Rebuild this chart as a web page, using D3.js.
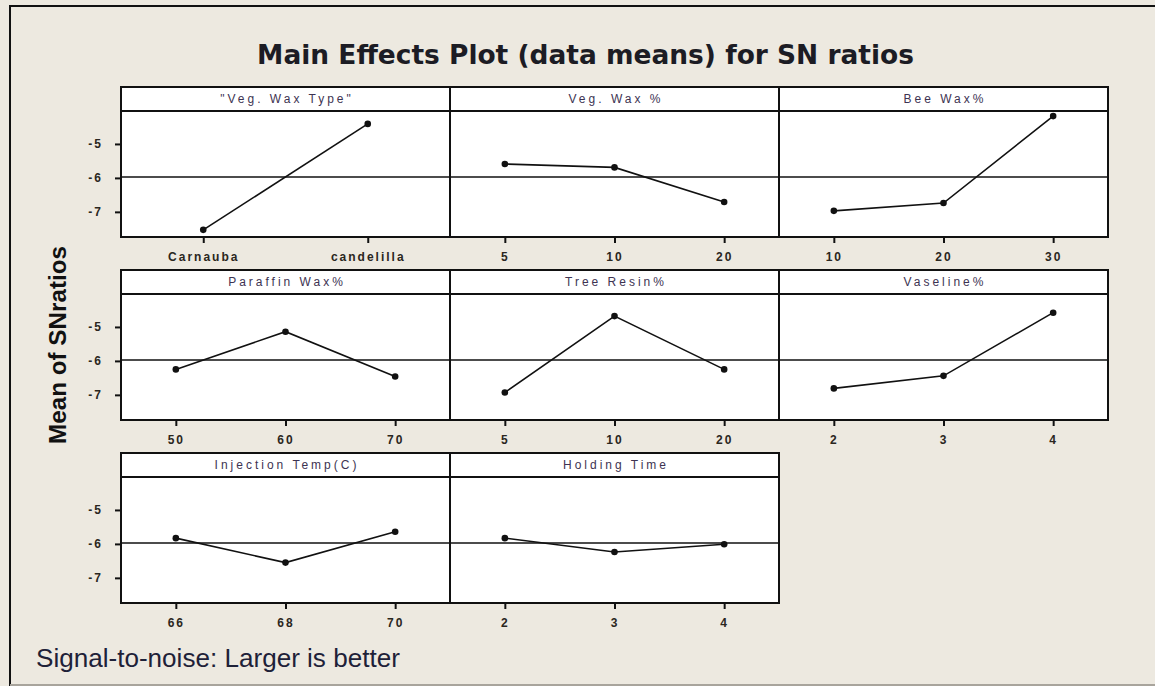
<!DOCTYPE html>
<html>
<head>
<meta charset="utf-8">
<script src="https://cdn.jsdelivr.net/npm/d3@7"></script>
<style>
  html, body { margin: 0; padding: 0; background: #EDE9E0; }
  svg { display: block; }
</style>
</head>
<body>
<svg id="chart" width="1155" height="686"></svg>
<script>
// ---- Data ----
const factors = ["\"Veg. Wax Type\"", "Veg. Wax %", "Bee Wax%", "Paraffin Wax%", "Tree Resin%", "Vaseline%", "Injection Temp(C)", "Holding Time"];
const levels = [
  ["Carnauba", "candelilla"],
  ["5", "10", "20"],
  ["10", "20", "30"],
  ["50", "60", "70"],
  ["5", "10", "20"],
  ["2", "3", "4"],
  ["66", "68", "70"],
  ["2", "3", "4"]
];
const snMeans = [
  [-7.53, -4.41],
  [-5.59, -5.69, -6.71],
  [-6.97, -6.74, -4.18],
  [-6.25, -5.14, -6.46],
  [-6.93, -4.68, -6.25],
  [-6.81, -6.44, -4.58],
  [-5.83, -6.55, -5.64],
  [-5.83, -6.24, -6.01]
];
const yTicks = [-5, -6, -7];
const overallMean = -5.97;
const titleText = "Main Effects Plot (data means) for SN ratios";
const yLabelText = "Mean of SNratios";
const footerText = "Signal-to-noise: Larger is better";

// ---- Layout ----
const W = 1155, H = 686;
const svg = d3.select("#chart");
const gridLeft = 121, panelW = 329;
const rowTops = [87, 270, 453];
const headerH = 24, plotH = 126;

svg.append("rect").attr("width", W).attr("height", H).attr("fill", "#EDE9E0");

// outer frame lines
svg.append("line").attr("x1", 10).attr("x2", W).attr("y1", 6).attr("y2", 6)
  .attr("stroke", "#111").attr("stroke-width", 2);
svg.append("line").attr("x1", 10).attr("x2", 10).attr("y1", 5).attr("y2", H)
  .attr("stroke", "#111").attr("stroke-width", 2);
svg.append("line").attr("x1", 10).attr("x2", W).attr("y1", 685).attr("y2", 685)
  .attr("stroke", "#a8a49c").attr("stroke-width", 2);

function fitText(sel, target) {
  const w = sel.node().getComputedTextLength();
  const fs = parseFloat(sel.attr("font-size"));
  sel.attr("font-size", (fs * target / w).toFixed(2));
}

// Title
const title = svg.append("text")
  .attr("x", 585.5).attr("y", 64)
  .attr("text-anchor", "middle")
  .attr("font-family", "DejaVu Sans")
  .attr("font-weight", "bold")
  .attr("font-size", 22)
  .attr("fill", "#1c1c24")
  .text(titleText);
fitText(title, 657);

// Y axis label
const yl = svg.append("text")
  .attr("transform", "translate(66,345) rotate(-90)")
  .attr("text-anchor", "middle")
  .attr("font-family", "Liberation Sans")
  .attr("font-weight", "bold")
  .attr("font-size", 24)
  .attr("fill", "#111")
  .text(yLabelText);
fitText(yl, 198);

// Footer
const ft = svg.append("text")
  .attr("x", 36).attr("y", 667)
  .attr("font-family", "Liberation Sans")
  .attr("font-size", 21)
  .attr("fill", "#1e2138")
  .text(footerText);
fitText(ft, 364);

const y = d3.scaleLinear().domain([-7.74, -4.03]).range([plotH, 0]);

factors.forEach((name, i) => {
  const row = Math.floor(i / 3), col = i % 3;
  const x0 = gridLeft + col * panelW;
  const top = rowTops[row];
  const g = svg.append("g").attr("transform", `translate(${x0},${top})`);

  // background first
  g.append("rect").attr("width", panelW).attr("height", headerH + plotH).attr("fill", "#fff");

  const plot = g.append("g").attr("transform", `translate(0,${headerH})`);
  const x = d3.scalePoint().domain(levels[i]).range([0, panelW]).padding(0.5);

  // mean reference line
  plot.append("line").attr("x1", 0).attr("x2", panelW)
    .attr("y1", y(overallMean)).attr("y2", y(overallMean))
    .attr("stroke", "#111").attr("stroke-width", 1.5);

  // x axis
  const xAxis = d3.axisBottom(x).tickSize(6).tickSizeOuter(0).tickPadding(9);
  const xa = plot.append("g").attr("transform", `translate(0,${plotH})`).call(xAxis);
  xa.select(".domain").remove();
  xa.selectAll(".tick line").attr("stroke", "#111").attr("stroke-width", 2);
  xa.selectAll(".tick text")
    .attr("font-family", "Liberation Sans").attr("font-weight", "bold")
    .attr("font-size", 12).attr("fill", "#2a2620")
    .attr("letter-spacing", "2px");

  // y axis on first column
  if (col === 0) {
    const yAxis = d3.axisLeft(y).tickValues(yTicks).tickFormat(d3.format("d"))
      .tickSize(6).tickSizeOuter(0).tickPadding(12);
    const ya = plot.append("g").call(yAxis);
    ya.select(".domain").remove();
    ya.selectAll(".tick line").attr("stroke", "#111").attr("stroke-width", 2);
    ya.selectAll(".tick text")
      .text(d => "-" + Math.abs(d))
      .attr("font-family", "Liberation Sans").attr("font-weight", "bold")
      .attr("font-size", 12).attr("fill", "#2a2620")
      .attr("letter-spacing", "2px");
  }

  // data line
  const pts = levels[i].map((lv, k) => [x(lv), y(snMeans[i][k])]);
  plot.append("path").attr("d", d3.line()(pts))
    .attr("fill", "none").attr("stroke", "#111").attr("stroke-width", 1.6);
  plot.selectAll("circle.pt").data(pts).join("circle")
    .attr("class", "pt")
    .attr("cx", d => d[0]).attr("cy", d => d[1]).attr("r", 3.3)
    .attr("fill", "#111");

  // header
  g.append("line").attr("x1", 0).attr("x2", panelW).attr("y1", headerH).attr("y2", headerH)
    .attr("stroke", "#111").attr("stroke-width", 2);
  g.append("text")
    .attr("x", panelW / 2 + 1.5).attr("y", headerH / 2 + 4)
    .attr("text-anchor", "middle")
    .attr("font-family", "Liberation Sans")
    .attr("font-size", 12)
    .attr("letter-spacing", "3px")
    .attr("fill", "#3d3352")
    .text(name);

  // border
  g.append("rect").attr("width", panelW).attr("height", headerH + plotH)
    .attr("fill", "none").attr("stroke", "#111").attr("stroke-width", 2);
});
</script>
</body>
</html>
